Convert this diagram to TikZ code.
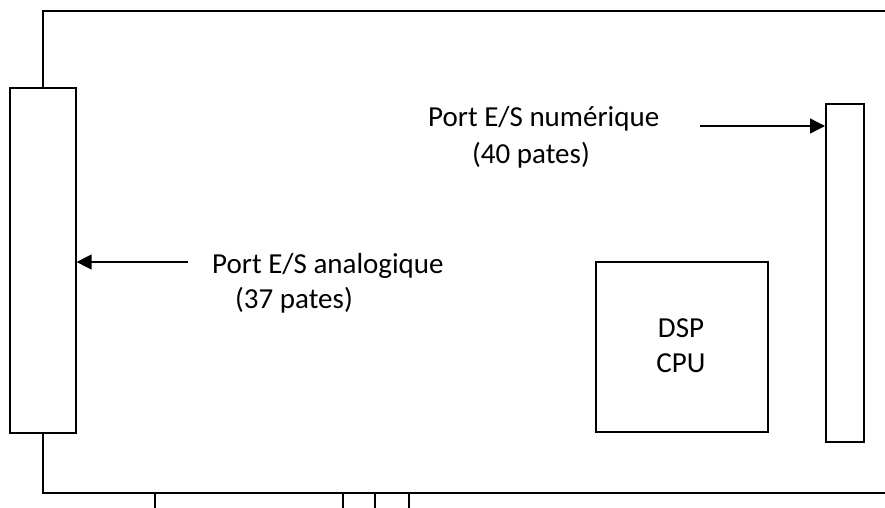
\documentclass[tikz,border=0pt]{standalone}
\usepackage{fontspec}
\setmainfont{Carlito}
\usetikzlibrary{arrows.meta}
\begin{document}
\begin{tikzpicture}[x=1pt,y=-1pt,
  wire/.style={line width=1.6pt},
  part/.style={draw,line width=1.6pt,inner sep=0pt,anchor=north west},
  lbl/.style={font=\fontsize{29}{35}\selectfont,inner sep=0pt,anchor=base west},
  ptr/.style={line width=1.3pt,-{Triangle[length=15pt,width=15pt]}}]
\useasboundingbox (0,0) rectangle (885,508);
\clip (0,0) rectangle (885,508);
% connectors and processor
\node[part,minimum width=66pt,minimum height=345pt] (ana) at (9,87) {};
\node[part,minimum width=38pt,minimum height=338pt] (num) at (825,103) {};
\node[part,minimum width=172pt,minimum height=170pt] (dsp) at (595,261) {};
\node[lbl,anchor=base] (tdsp) at (681,337) {DSP};
\node[lbl,anchor=base] (tcpu) at (681,372) {CPU};
% board outline
\draw[wire] (ana.north -| 43,0) -- (43,11) -- (890,11);
\draw[wire] (ana.south -| 43,0) -- (43,493) -- (890,493);
% edge connector fingers
\draw[wire] (155,493) -- (155,512);
\draw[wire] (343,493) -- (343,512);
\draw[wire] (375,493) -- (375,512);
\draw[wire] (409,493) -- (409,512);
% labels
\node[lbl] (tnum) at (428,127) {Port E/S numérique};
\node[lbl] (tnum2) at (472,163) {(40 pates)};
\node[lbl] (tana) at (212,273) {Port E/S analogique};
\node[lbl] (tana2) at (235,308) {(37 pates)};
% pointer arrows
\coordinate (pn) at (700,126);
\coordinate (pa) at (188,262);
\draw[ptr] (pn) -- (pn -| num.west);
\draw[ptr] (pa) -- (pa -| ana.east);
\end{tikzpicture}
\end{document}
